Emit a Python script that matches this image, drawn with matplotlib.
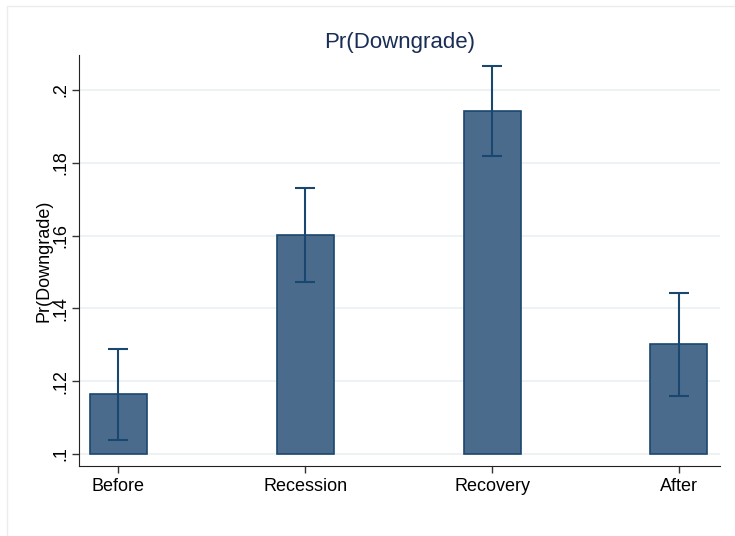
import matplotlib.pyplot as plt
from matplotlib.patches import Rectangle

plt.rcParams["font.family"] = ["Liberation Sans", "DejaVu Sans"]

periods = ["Before", "Recession", "Recovery", "After"]
pr_downgrade = [0.1165, 0.1602, 0.1942, 0.1302]
ci_low = [0.1038, 0.1473, 0.1819, 0.1159]
ci_high = [0.1288, 0.1731, 0.2066, 0.1442]

y_ticks = [0.10, 0.12, 0.14, 0.16, 0.18, 0.20]
y_tick_labels = [".1", ".12", ".14", ".16", ".18", ".2"]

bar_fill = "#4a6b8c"
navy = "#1a476f"
grid_col = "#eaf0f2"

fig = plt.figure(figsize=(7.35, 5.36), dpi=100)
ax = fig.add_axes([0.1075, 0.1306, 0.8721, 0.7668])

# faint outer frame of the graph region
fig.patches.append(Rectangle((7 / 735, -0.1), 1.2, 1.0 - 6 / 536 + 0.1,
                             transform=fig.transFigure, fill=False,
                             edgecolor="#ececec", linewidth=1.0))

x = list(range(len(periods)))
base = 0.1
heights = [v - base for v in pr_downgrade]
ax.bar(x, heights, bottom=base, width=0.305, color=bar_fill,
       edgecolor=navy, linewidth=1.2, zorder=3)

yerr = [[m - lo for m, lo in zip(pr_downgrade, ci_low)],
        [hi - m for m, hi in zip(pr_downgrade, ci_high)]]
ax.errorbar(x, pr_downgrade, yerr=yerr, fmt="none", ecolor=navy,
            elinewidth=1.5, capsize=7, capthick=1.5, zorder=4)

ax.set_xlim(-0.21, 3.22)
ax.set_ylim(0.0967, 0.2096)
ax.set_yticks(y_ticks)
ax.set_yticklabels(y_tick_labels, rotation=90, va="center")
ax.set_xticks(x)
ax.set_xticklabels(periods)
ax.tick_params(axis="both", labelsize=13, length=5, width=1, color="#333333",
               labelcolor="black")
ax.tick_params(axis="y", pad=2)

for yt in y_ticks:
    ax.axhline(yt, color=grid_col, linewidth=1.2, zorder=1)

ax.spines["top"].set_visible(False)
ax.spines["right"].set_visible(False)
ax.spines["left"].set_color("#222222")
ax.spines["bottom"].set_color("#222222")

ax.set_ylabel("Pr(Downgrade)", fontsize=13, labelpad=0)
ax.set_title("Pr(Downgrade)", fontsize=16, color="#1a2d55", pad=5)

fig.savefig("out.png", dpi=100, facecolor="white")
